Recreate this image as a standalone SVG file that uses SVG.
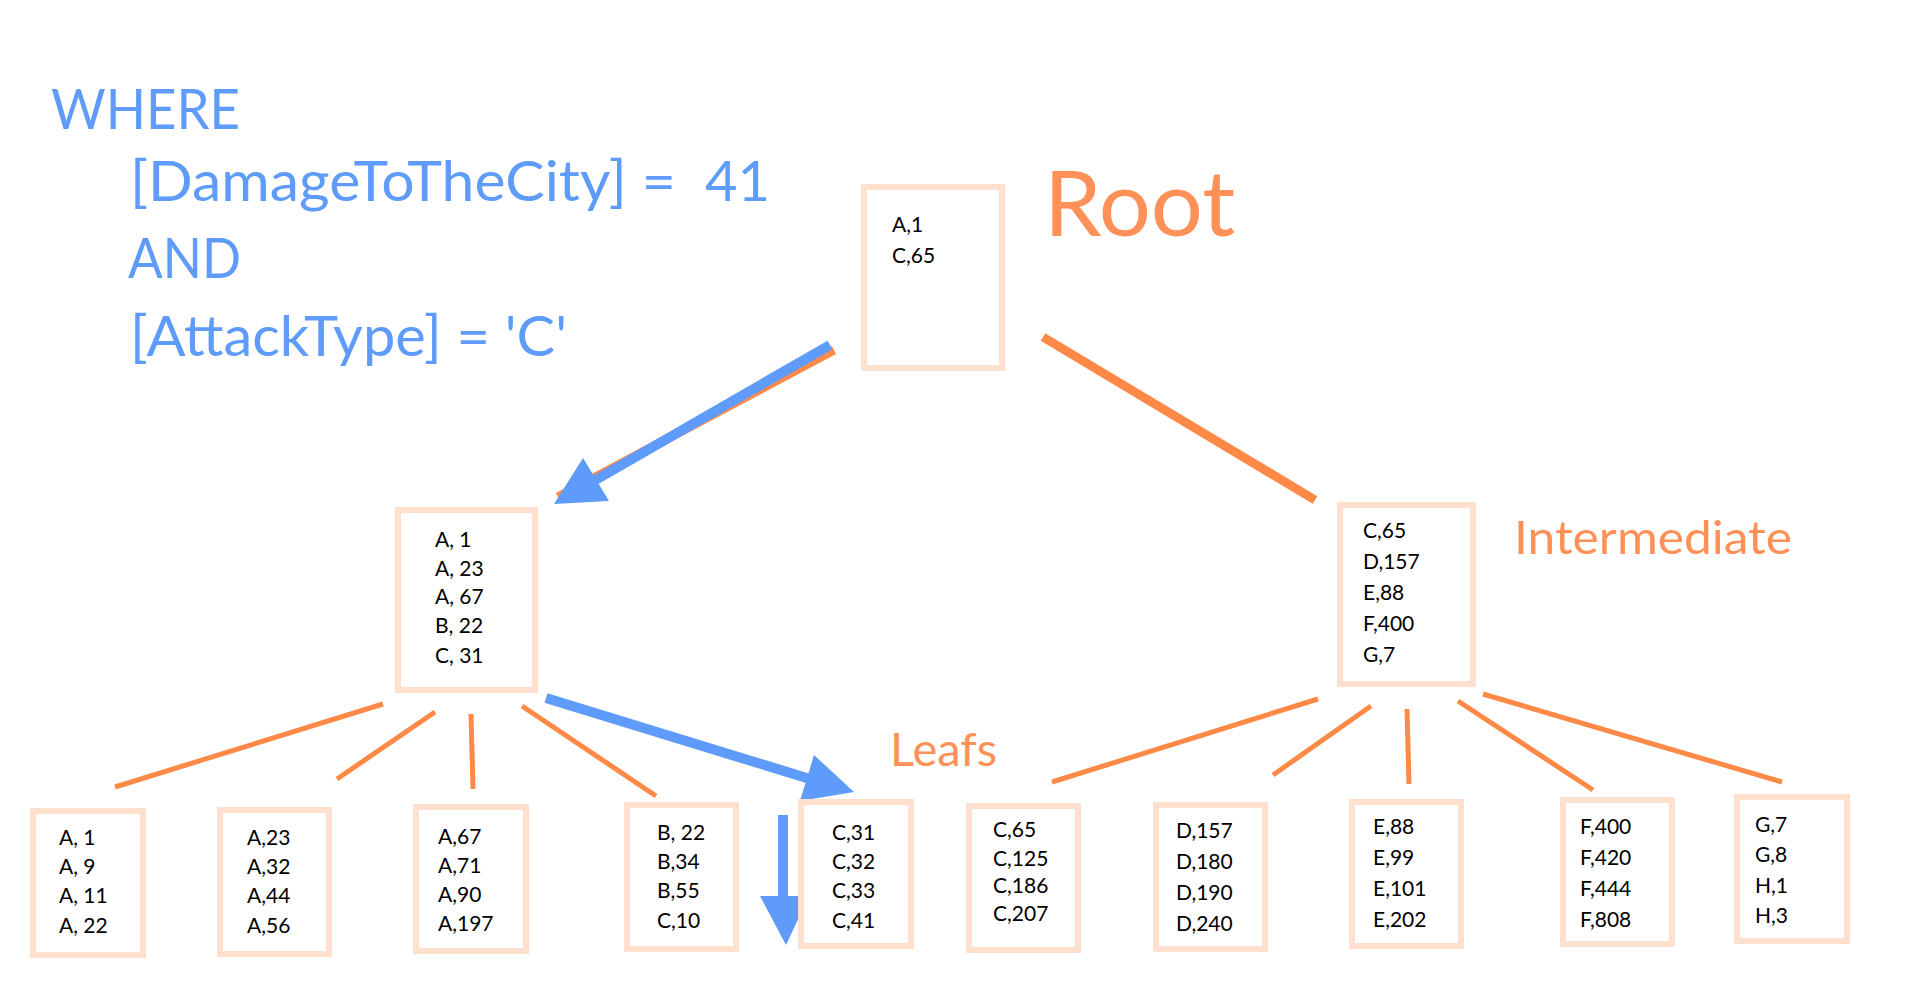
<svg xmlns="http://www.w3.org/2000/svg" width="1920" height="1000" viewBox="0 0 1920 1000">
<style>
.box{fill:#ffffff;stroke:#FFDFCE;stroke-width:6}
.t{font-family:Lato,"Open Sans","Liberation Sans",sans-serif;font-size:21px;fill:#000000}
.q{font-family:Lato,"Open Sans","Liberation Sans",sans-serif;font-size:56px;fill:#5E9BFA}
.lbl{font-family:Lato,"Open Sans","Liberation Sans",sans-serif;fill:#FF9158}
.edge{stroke:#FF8A47;stroke-width:5;fill:none}
.edgeT{stroke:#FF8A47;stroke-width:9;fill:none}
.blue{stroke:#5E9BFA;stroke-width:10;fill:none}
.head{fill:#5E9BFA}
</style>
<rect width="1920" height="1000" fill="#ffffff"/>
<g id="query">
<text class="q" x="51" y="129" textLength="189" lengthAdjust="spacingAndGlyphs">WHERE</text>
<text class="q" x="130" y="201" textLength="546" lengthAdjust="spacingAndGlyphs">[DamageToTheCity] =</text>
<text class="q" x="705" y="201">41</text>
<text class="q" x="128" y="278" textLength="113" lengthAdjust="spacingAndGlyphs">AND</text>
<text class="q" x="130" y="356" textLength="437" lengthAdjust="spacingAndGlyphs">[AttackType] = 'C'</text>
</g>
<g id="labels">
<text class="lbl" x="1044" y="236" font-size="92">Root</text>
<text class="lbl" x="1514" y="554" font-size="47" textLength="278" lengthAdjust="spacingAndGlyphs">Intermediate</text>
<text class="lbl" x="890" y="766" font-size="47">Leafs</text>
</g>
<g id="connectors">
<line class="edgeT" x1="1043" y1="337" x2="1315" y2="500"/>
<line class="edgeT" x1="834" y1="350" x2="558" y2="497"/>
<line class="edge" x1="383" y1="704" x2="115" y2="787"/>
<line class="edge" x1="435" y1="712" x2="337" y2="779"/>
<line class="edge" x1="471" y1="714" x2="473" y2="789"/>
<line class="edge" x1="522" y1="706" x2="656" y2="796"/>
<line class="edge" x1="1318" y1="699" x2="1052" y2="782"/>
<line class="edge" x1="1371" y1="706" x2="1273" y2="775"/>
<line class="edge" x1="1407" y1="709" x2="1409" y2="784"/>
<line class="edge" x1="1458" y1="701" x2="1593" y2="790"/>
<line class="edge" x1="1483" y1="694" x2="1782" y2="782"/>
<line class="blue" x1="830" y1="345" x2="592" y2="482"/>
<polygon class="head" points="554,504 583,458 609,501"/>
<line class="blue" x1="546" y1="698" x2="810" y2="779"/>
<polygon class="head" points="854,792 814,755 800,801"/>
<line class="blue" x1="783" y1="815" x2="783" y2="898"/>
<polygon class="head" points="760,896 809,896 786,945"/>
</g>
<g id="root">
<rect class="box" x="864" y="187" width="138" height="181"/>
<text class="t"><tspan x="892" y="232">A,1</tspan><tspan x="892" y="263">C,65</tspan></text>
</g>
<g id="inter-left">
<rect class="box" x="398" y="510" width="137" height="180"/>
<text class="t"><tspan x="435" y="547">A, 1</tspan><tspan x="435" y="576">A, 23</tspan><tspan x="435" y="604">A, 67</tspan><tspan x="435" y="633">B, 22</tspan><tspan x="435" y="663">C, 31</tspan></text>
</g>
<g id="inter-right">
<rect class="box" x="1340" y="505" width="133" height="179"/>
<text class="t"><tspan x="1363" y="538">C,65</tspan><tspan x="1363" y="569">D,157</tspan><tspan x="1363" y="600">E,88</tspan><tspan x="1363" y="631">F,400</tspan><tspan x="1363" y="662">G,7</tspan></text>
</g>
<g id="leaf1">
<rect class="box" x="33" y="811" width="110" height="144"/>
<text class="t"><tspan x="59" y="845">A, 1</tspan><tspan x="59" y="874">A, 9</tspan><tspan x="59" y="903">A, 11</tspan><tspan x="59" y="933">A, 22</tspan></text>
</g>
<g id="leaf2">
<rect class="box" x="220" y="810" width="109" height="144"/>
<text class="t"><tspan x="247" y="845">A,23</tspan><tspan x="247" y="874">A,32</tspan><tspan x="247" y="903">A,44</tspan><tspan x="247" y="933">A,56</tspan></text>
</g>
<g id="leaf3">
<rect class="box" x="416" y="807" width="110" height="144"/>
<text class="t"><tspan x="438" y="844">A,67</tspan><tspan x="438" y="873">A,71</tspan><tspan x="438" y="902">A,90</tspan><tspan x="438" y="931">A,197</tspan></text>
</g>
<g id="leaf4">
<rect class="box" x="627" y="805" width="109" height="144"/>
<text class="t"><tspan x="657" y="840">B, 22</tspan><tspan x="657" y="869">B,34</tspan><tspan x="657" y="898">B,55</tspan><tspan x="657" y="928">C,10</tspan></text>
</g>
<g id="leaf5">
<rect class="box" x="801" y="802" width="110" height="144"/>
<text class="t"><tspan x="832" y="840">C,31</tspan><tspan x="832" y="869">C,32</tspan><tspan x="832" y="898">C,33</tspan><tspan x="832" y="928">C,41</tspan></text>
</g>
<g id="leaf6">
<rect class="box" x="969" y="806" width="109" height="144"/>
<text class="t" font-size="20"><tspan x="993" y="837">C,65</tspan><tspan x="993" y="866">C,125</tspan><tspan x="993" y="893">C,186</tspan><tspan x="993" y="921">C,207</tspan></text>
</g>
<g id="leaf7">
<rect class="box" x="1156" y="805" width="109" height="144"/>
<text class="t" font-size="22"><tspan x="1176" y="838">D,157</tspan><tspan x="1176" y="869">D,180</tspan><tspan x="1176" y="900">D,190</tspan><tspan x="1176" y="931">D,240</tspan></text>
</g>
<g id="leaf8">
<rect class="box" x="1352" y="802" width="109" height="144"/>
<text class="t" font-size="22"><tspan x="1373" y="834">E,88</tspan><tspan x="1373" y="865">E,99</tspan><tspan x="1373" y="896">E,101</tspan><tspan x="1373" y="927">E,202</tspan></text>
</g>
<g id="leaf9">
<rect class="box" x="1563" y="800" width="109" height="144"/>
<text class="t" font-size="22"><tspan x="1580" y="834">F,400</tspan><tspan x="1580" y="865">F,420</tspan><tspan x="1580" y="896">F,444</tspan><tspan x="1580" y="927">F,808</tspan></text>
</g>
<g id="leaf10">
<rect class="box" x="1737" y="797" width="110" height="144"/>
<text class="t" font-size="22"><tspan x="1755" y="832">G,7</tspan><tspan x="1755" y="862">G,8</tspan><tspan x="1755" y="893">H,1</tspan><tspan x="1755" y="923">H,3</tspan></text>
</g>
</svg>
